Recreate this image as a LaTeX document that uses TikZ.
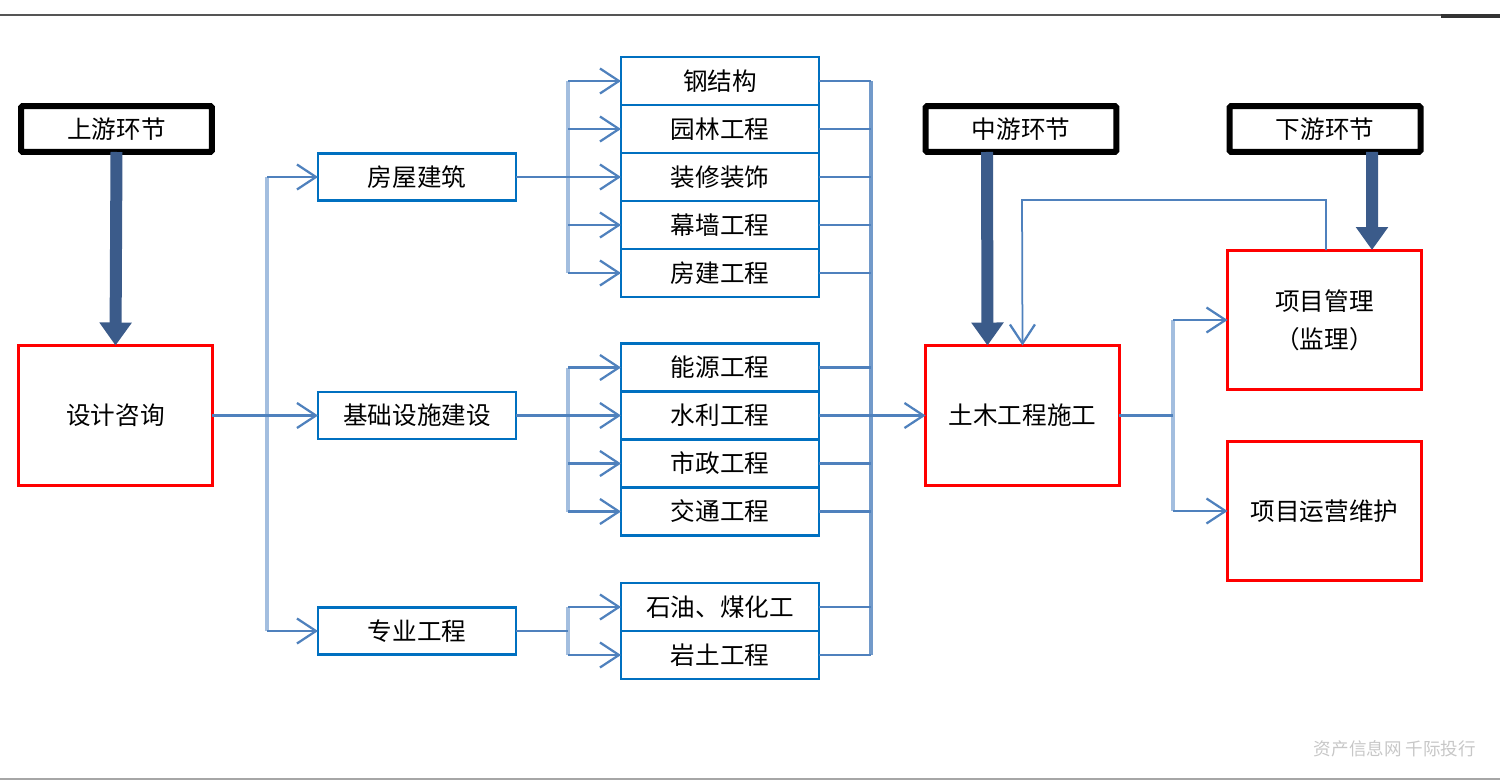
\documentclass[tikz,border=0pt]{standalone}
\usepackage{fontspec}
\newfontfamily\cjk{Noto Sans CJK SC}
\usetikzlibrary{arrows.meta}
\definecolor{boxblue}{HTML}{0070C0}
\definecolor{linemid}{HTML}{4F81BD}
\definecolor{linelight}{HTML}{A3BEDF}
\definecolor{darkarrow}{HTML}{3B5B8A}
\definecolor{rulegray}{HTML}{555555}
\begin{document}
\begin{tikzpicture}[x=0.02cm,y=-0.02cm,
 every node/.style={font=\cjk\fontsize{14}{21.5}\selectfont, inner sep=0pt, outer sep=0pt, text=black},
 header/.style={draw=black, line width=0.12cm, rounded corners=0.03cm, minimum width=3.82cm, minimum height=0.92cm},
 redbox/.style={draw=red, line width=0.06cm, minimum width=3.88cm, minimum height=2.8cm, align=center},
 parentbox/.style={draw=boxblue, line width=0.05cm, minimum width=3.96cm, minimum height=0.94cm},
 subbox/.style={draw=boxblue, line width=0.05cm, minimum width=3.96cm, minimum height=0.96cm},
 conn/.style={draw=linemid, line width=0.045cm},
 trunk/.style={draw=linelight, line width=0.08cm},
 openarrow/.style={conn, -{Straight Barb[length=0.38cm, width=0.5cm, line width=0.045cm]}},
 bigarrow/.style={draw=darkarrow, line width=0.24cm, -{Triangle[length=0.46cm, width=0.62cm]}, shorten >=0pt}
]
\useasboundingbox (0,0) rectangle (1500,781);
% page rules
\draw[rulegray, line width=0.05cm] (0,15) -- (1500,15);
\draw[black!80, line width=0.08cm] (1441,16) -- (1500,16);
\draw[gray!70, line width=0.03cm] (0,779) -- (1500,779);

% header nodes
\node[header] (sy) at (116.5,129) {上游环节};
\node[header] (zy) at (1021,129) {中游环节};
\node[header] (xy) at (1325,129) {下游环节};

% red boxes
\node[redbox] (dsz) at (115.5,415.5) {设计咨询};
\node[redbox] (tm) at (1022.5,415.5) {土木工程施工};
\node[redbox] (xm) at (1324.5,320) {项目管理\\（监理）};
\node[redbox] (yy) at (1324.5,511) {项目运营维护};

% parent boxes
\node[parentbox] (fw) at (417,177) {房屋建筑};
\node[parentbox] (jc) at (417,415.5) {基础设施建设};
\node[parentbox] (zg) at (417,631) {专业工程};

% sub boxes
\node[subbox] (s1) at (720,81) {钢结构};
\node[subbox] (s2) at (720,129) {园林工程};
\node[subbox] (s3) at (720,177) {装修装饰};
\node[subbox] (s4) at (720,225) {幕墙工程};
\node[subbox] (s5) at (720,273) {房建工程};
\node[subbox] (t1) at (720,367.5) {能源工程};
\node[subbox] (t2) at (720,415.5) {水利工程};
\node[subbox] (t3) at (720,463.5) {市政工程};
\node[subbox] (t4) at (720,511.5) {交通工程};
\node[subbox] (u1) at (720,607) {石油、煤化工};
\node[subbox] (u2) at (720,655) {岩土工程};

% watermark
\node[font=\cjk\fontsize{10}{12}\selectfont, text=black!22] (wm) at (1395,749) {资产信息网 千际投行};

% branch coordinates
\coordinate (a0) at (267,415.5);
\coordinate (a1) at (267,177);
\coordinate (a3) at (267,631);
\coordinate (f0) at (568,177);
\coordinate (f1) at (568,81);
\coordinate (f2) at (568,129);
\coordinate (f4) at (568,225);
\coordinate (f5) at (568,273);
\coordinate (j0) at (568,415.5);
\coordinate (j1) at (568,367.5);
\coordinate (j3) at (568,463.5);
\coordinate (j4) at (568,511.5);
\coordinate (z0) at (568,631);
\coordinate (z1) at (568,607);
\coordinate (z2) at (568,655);
\coordinate (r1) at (871,81);
\coordinate (r0) at (871,415.5);
\coordinate (r9) at (871,655);
\coordinate (m0) at (1173,415.5);
\coordinate (m1) at (1173,320);
\coordinate (m2) at (1173,511);
\coordinate (fb) at (1022,200);

% trunks
\draw[trunk] (a1) -- (a3);
\draw[trunk] (f1) -- (f5);
\draw[trunk] (j1) -- (j4);
\draw[trunk] (z1) -- (z2);
\draw[trunk, draw=linemid!80] (r1) -- (r9);
\draw[trunk] (m1) -- (m2);

% design -> parents
\draw[conn] (dsz.east) -- (a0);
\draw[openarrow] (a1) -- (fw.west);
\draw[openarrow] (a0) -- (jc.west);
\draw[openarrow] (a3) -- (zg.west);

% parents -> subs
\draw[conn] (fw.east) -- (f0);
\foreach \c/\s in {f1/s1,f2/s2,f0/s3,f4/s4,f5/s5} \draw[openarrow] (\c) -- (\s.west);
\draw[conn] (jc.east) -- (j0);
\draw[openarrow] (j1) -- (t1.west);
\draw[openarrow] (j0) -- (t2.west);
\draw[openarrow] (j3) -- (t3.west);
\draw[openarrow] (j4) -- (t4.west);
\draw[conn] (zg.east) -- (z0);
\draw[openarrow] (z1) -- (u1.west);
\draw[openarrow] (z2) -- (u2.west);

% subs -> collector
\foreach \s in {s1,s2,s3,s4,s5,t1,t2,t3,t4,u1,u2} \draw[conn] (\s.east) -- (\s.east -| r0);
\draw[openarrow, line width=0.06cm] (r0) -- (tm.west);

% construction -> downstream
\draw[conn] (tm.east) -- (m0);
\draw[openarrow] (m1) -- (xm.west);
\draw[openarrow] (m2) -- (yy.west);

% feedback
\draw[openarrow, line width=0.035cm] ([xshift=0.03cm]xm.north) |- (fb) -- (tm.north);

% thick arrows
\draw[bigarrow] (sy.south) -- (dsz.north);
\draw[bigarrow] ([xshift=-0.68cm]zy.south) -- ([xshift=-0.7cm]tm.north);
\draw[bigarrow] ([xshift=0.94cm]xy.south) -- ([xshift=0.95cm]xm.north);
\end{tikzpicture}
\end{document}
